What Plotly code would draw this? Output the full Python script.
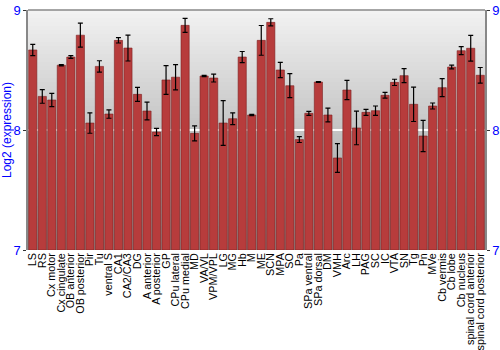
import plotly.graph_objects as go

regions = ["LS", "RS", "Cx motor", "Cx cingulate", "OB anterior", "OB posterior", "Pir", "Tu",
           "ventral S", "CA1", "CA2/CA3", "DG", "A anterior", "A posterior", "GP", "CPu lateral",
           "CPu medial", "MD", "VA/VL", "VPM/VPL", "LG", "MG", "Hb", "M", "ME", "SCN", "MPA", "SO",
           "Pa", "SPa ventral", "SPa dorsal", "DM", "VMH", "Arc", "LH", "PAG", "SC", "IC", "VTA",
           "SN", "Tg", "Pn", "MVe", "Cb vermis", "Cb lobe", "Cb nucleus", "spinal cord anterior",
           "spinal cord posterior"]
expression = [8.667, 8.28, 8.25, 8.54, 8.608, 8.79, 8.058, 8.53,
              8.133, 8.747, 8.683, 8.297, 8.158, 7.983, 8.417, 8.44,
              8.872, 7.972, 8.45, 8.433, 8.058, 8.094, 8.608, 8.125, 8.747, 8.897, 8.5, 8.369,
              7.92, 8.139, 8.4, 8.125, 7.767, 8.333, 8.017, 8.147, 8.161, 8.289, 8.397,
              8.453, 8.214, 7.95, 8.2, 8.353, 8.525, 8.661, 8.681,
              8.456]
errors = [0.047, 0.057, 0.055, 0.005, 0.011, 0.1, 0.085, 0.047,
          0.035, 0.022, 0.108, 0.058, 0.074, 0.03, 0.12, 0.105,
          0.058, 0.062, 0.005, 0.033, 0.186, 0.049, 0.046, 0.005, 0.124, 0.03, 0.064, 0.1,
          0.024, 0.017, 0.004, 0.058, 0.12, 0.08, 0.14, 0.025, 0.039, 0.024, 0.026,
          0.058, 0.143, 0.13, 0.025, 0.075, 0.015, 0.033, 0.107,
          0.065]
y_ticks = [7, 8, 9]

fig = go.Figure()
fig.add_trace(go.Bar(
    x=regions, y=[v - 7 for v in expression], base=7,
    marker=dict(color="#b73c3c", line=dict(color="#7c2020", width=0.6)),
    error_y=dict(type="data", array=errors, color="black", thickness=1.2, width=2.5),
    showlegend=False, hoverinfo="x+y",
))
fig.add_trace(go.Scatter(x=[regions[0]], y=[8], yaxis="y2", mode="markers",
                         marker=dict(opacity=0), showlegend=False, hoverinfo="skip"))

# background vertical gradient
shapes = []
n = 60
top = (242, 242, 242)
bot = (150, 150, 150)
for i in range(n):
    f = i / (n - 1)
    c = tuple(int(top[k] + (bot[k] - top[k]) * f) for k in range(3))
    y1 = 1 - i / n
    y0 = 1 - (i + 1) / n
    shapes.append(dict(type="rect", xref="paper", yref="paper", x0=0, x1=1, y0=y0, y1=y1,
                       fillcolor="rgb(%d,%d,%d)" % c, line=dict(width=0), layer="below"))
shapes.append(dict(type="line", xref="paper", yref="paper", x0=0, x1=1, y0=1, y1=1,
                   line=dict(color="#888888", width=1.5)))

axis_common = dict(range=[7, 9], tickvals=y_ticks, ticktext=[str(t) for t in y_ticks],
                   tickfont=dict(color="#0000ff", size=13, family="Liberation Sans"),
                   ticks="outside", ticklen=3, tickcolor="#333333",
                   showline=True, linecolor="#888888", linewidth=1.5, automargin=False)

fig.update_layout(
    width=500, height=350,
    margin=dict(l=28, r=15, t=10, b=100),
    paper_bgcolor="white", plot_bgcolor="rgba(0,0,0,0)",
    bargap=0.14,
    font=dict(family="Liberation Sans", size=10.8, color="black"),
    shapes=shapes,
    xaxis=dict(tickangle=-90, tickmode="array", tickvals=regions, ticktext=regions,
               tickfont=dict(size=10.8, color="black"), showgrid=False, automargin=False,
               ticks="", showline=False, range=[-0.5, len(regions) - 0.5]),
    yaxis=dict(**axis_common, showgrid=True, gridcolor="white", gridwidth=1.5,
               zeroline=False, side="left",
               title=dict(text="Log2 (expression)", font=dict(color="#0000ff", size=12), standoff=6)),
    yaxis2=dict(**axis_common, overlaying="y", side="right", showgrid=False, zeroline=False,
                ticklabelstandoff=0),
)

fig.write_html("out.html")
